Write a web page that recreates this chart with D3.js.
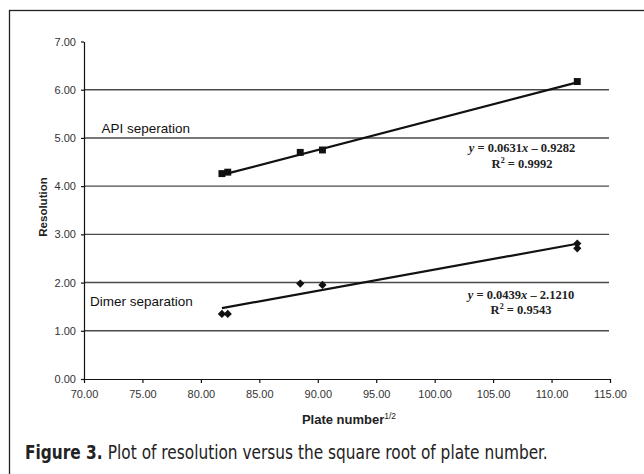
<!DOCTYPE html>
<html>
<head>
<meta charset="utf-8">
<script src="https://cdn.jsdelivr.net/npm/d3@7"></script>
<style>
  html, body { margin: 0; padding: 0; background: #fff; }
  svg { display: block; }
</style>
</head>
<body>
<div class="svg"></div>
<script>
// values
var apiPlate = [81.8, 82.3, 88.5, 90.4, 112.2];
var apiRes = [4.26, 4.29, 4.70, 4.75, 6.17];
var dimerPlate = [81.8, 82.3, 88.5, 90.4, 112.2, 112.2];
var dimerRes = [1.35, 1.35, 1.98, 1.95, 2.81, 2.71];
var apiFit = {slope: 0.0631, icpt: -0.9282, r2: '0.9992'};
var dimerFit = {slope: 0.0439, icpt: -2.1210, r2: '0.9543'};
var xTicks = [70, 75, 80, 85, 90, 95, 100, 105, 110, 115];
var yTicks = [0, 1, 2, 3, 4, 5, 6, 7];
var gridTicks = [1, 2, 3, 4, 5, 6];

var outerWidth = 644;
var outerHeight = 474;
var margin = {top: 41.5, right: 34, bottom: 95, left: 84};

var x = d3.scaleLinear().domain([70, 115]).range([margin.left, outerWidth - margin.right]);
var y = d3.scaleLinear().domain([0, 7]).range([outerHeight - margin.bottom, margin.top]);

var outer = d3.select(".svg").append("svg")
  .attr("width", outerWidth)
  .attr("height", outerHeight);

outer.append("rect")
  .attr("width", outerWidth)
  .attr("height", outerHeight)
  .attr("fill", "#ffffff");

// frame, cut off at right and bottom like the scan
outer.append("rect")
  .attr("x", 9.5)
  .attr("y", 10.5)
  .attr("width", 700)
  .attr("height", 500)
  .attr("fill", "none")
  .attr("stroke", "#222")
  .attr("stroke-width", 1.3);

// horizontal grid
outer.append("g").selectAll("line")
  .data(gridTicks)
  .join("line")
  .attr("x1", x(70))
  .attr("x2", x(115) - 1)
  .attr("y1", function(d){ return y(d); })
  .attr("y2", function(d){ return y(d); })
  .attr("stroke", "#4a4a4a")
  .attr("stroke-width", 1.4);

var xAxis = d3.axisBottom(x)
  .tickValues(xTicks)
  .tickFormat(d3.format(".2f"))
  .tickSizeInner(4)
  .tickSizeOuter(0)
  .tickPadding(7);

var yAxis = d3.axisLeft(y)
  .tickValues(yTicks)
  .tickFormat(d3.format(".2f"))
  .tickSizeInner(3)
  .tickSizeOuter(0)
  .tickPadding(5);

outer.append("g")
  .attr("class", "x axis")
  .attr("transform", "translate(0," + y(0) + ")")
  .call(xAxis);

outer.append("g")
  .attr("class", "y axis")
  .attr("transform", "translate(" + x(70) + ",0)")
  .call(yAxis);

outer.selectAll(".axis path, .axis line").attr("stroke", "#111").attr("stroke-width", 1.2);
outer.selectAll(".axis text")
  .attr("font-family", "'Liberation Sans', Arial, sans-serif")
  .attr("font-size", 11)
  .attr("fill", "#333");

// trend lines over each series' x range
function trend(xs, fit) {
  var ext = d3.extent(xs);
  return ext.map(function(v){ return [v, fit.slope * v + fit.icpt]; });
}

var line = d3.line()
  .x(function(d){ return x(d[0]); })
  .y(function(d){ return y(d[1]); });

outer.append("path")
  .attr("d", line(trend(apiPlate, apiFit)))
  .attr("fill", "none")
  .attr("stroke", "#111")
  .attr("stroke-width", 2.2);

outer.append("path")
  .attr("d", line(trend(dimerPlate, dimerFit)))
  .attr("fill", "none")
  .attr("stroke", "#111")
  .attr("stroke-width", 2.2);

// markers: squares, and squares turned 45 degrees for the diamonds
var square = d3.symbol().type(d3.symbolSquare).size(48);
var diamond = d3.symbol().type(d3.symbolSquare).size(34);

outer.append("g").selectAll("path")
  .data(d3.zip(apiPlate, apiRes))
  .join("path")
  .attr("d", square)
  .attr("transform", function(d){ return "translate(" + x(d[0]) + "," + y(d[1]) + ")"; })
  .attr("fill", "#111");

outer.append("g").selectAll("path")
  .data(d3.zip(dimerPlate, dimerRes))
  .join("path")
  .attr("d", diamond)
  .attr("transform", function(d){ return "translate(" + x(d[0]) + "," + y(d[1]) + ") rotate(45)"; })
  .attr("fill", "#111");

// series labels
var sans = "'Liberation Sans', Arial, sans-serif";
var serif = "'Liberation Serif', 'Times New Roman', serif";

outer.append("text")
  .attr("x", 101.5)
  .attr("y", 133.3)
  .attr("font-family", sans)
  .attr("font-size", 13.5)
  .attr("fill", "#111")
  .text("API seperation");

outer.append("text")
  .attr("x", 90)
  .attr("y", 306)
  .attr("font-family", sans)
  .attr("font-size", 13.5)
  .attr("fill", "#111")
  .text("Dimer separation");

// regression equations
function equation(cx, cy, fit) {
  var g = outer.append("g")
    .attr("font-family", serif)
    .attr("font-weight", "bold")
    .attr("font-size", 12.5)
    .attr("fill", "#222")
    .attr("text-anchor", "middle");
  var t = g.append("text").attr("x", cx).attr("y", cy);
  t.append("tspan").attr("font-style", "italic").text("y");
  t.append("tspan").text(" = " + fit.slope.toFixed(4));
  t.append("tspan").attr("font-style", "italic").text("x");
  t.append("tspan").text(" \u2013 " + Math.abs(fit.icpt).toFixed(4));
  var r = g.append("text").attr("x", cx).attr("y", cy + 15.5);
  r.append("tspan").text("R");
  r.append("tspan").attr("font-size", 8).attr("dy", -5).text("2");
  r.append("tspan").attr("dy", 5).text(" = " + fit.r2);
}

equation(522, 152, apiFit);
equation(521, 298.5, dimerFit);

// axis titles
outer.append("text")
  .attr("transform", "translate(46.5,207) rotate(-90)")
  .attr("text-anchor", "middle")
  .attr("font-family", sans)
  .attr("font-weight", "bold")
  .attr("font-size", 11.5)
  .attr("fill", "#222")
  .text("Resolution");

var xt = outer.append("text")
  .attr("x", 349)
  .attr("y", 423.5)
  .attr("text-anchor", "middle")
  .attr("font-family", sans)
  .attr("font-weight", "bold")
  .attr("font-size", 13)
  .attr("fill", "#222");
xt.append("tspan").text("Plate number");
xt.append("tspan").attr("font-size", 8.5).attr("font-weight", "normal").attr("dy", -5).text("1/2");

// caption: bold lead-in then plain text, squeezed to the scan's width
var capFont = "'DejaVu Sans Condensed', 'Liberation Sans Narrow', 'Open Sans', sans-serif";
var cap = outer.append("g");
var capBold = cap.append("text")
  .attr("x", 0)
  .attr("y", 0)
  .attr("font-family", capFont)
  .attr("font-weight", "bold")
  .attr("font-size", 20)
  .attr("fill", "#222")
  .text("Figure 3.");
var boldW = capBold.node().getComputedTextLength();
var capRest = cap.append("text")
  .attr("x", boldW + 6)
  .attr("y", 0)
  .attr("font-family", capFont)
  .attr("font-size", 20)
  .attr("fill", "#222")
  .text("Plot of resolution versus the square root of plate number.");
var totalW = boldW + 6 + capRest.node().getComputedTextLength();
cap.attr("transform", "translate(25,459) scale(" + (523 / totalW) + ",1)");
</script>
</body>
</html>
